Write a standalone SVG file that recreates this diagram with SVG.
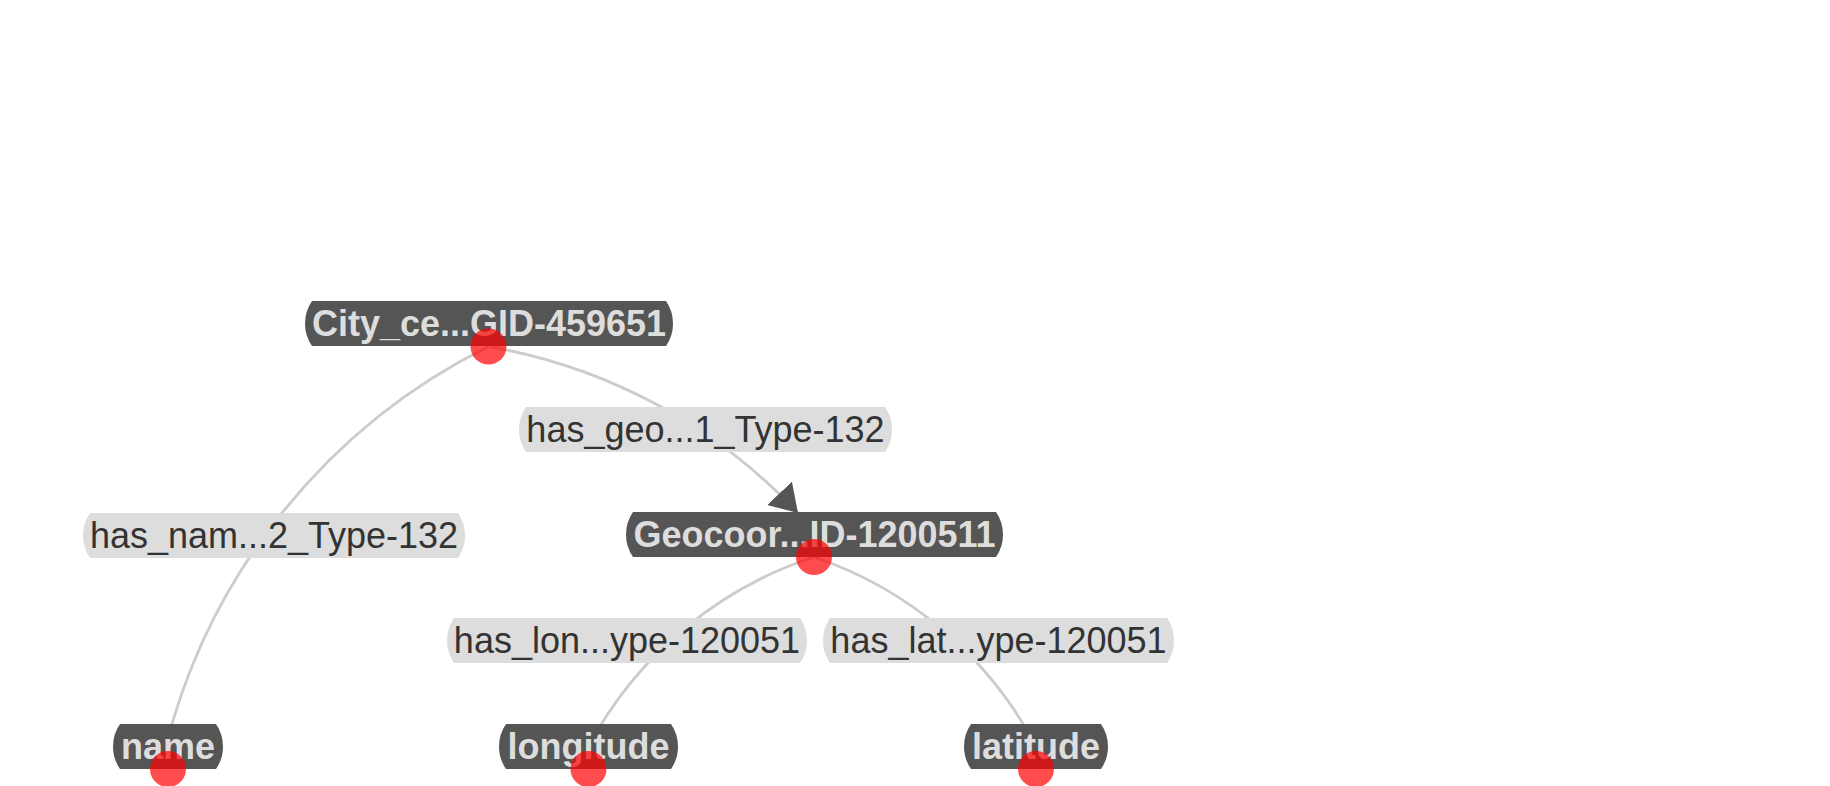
<svg xmlns="http://www.w3.org/2000/svg" width="1830" height="786" viewBox="0 0 1830 786">
<style>
.edge{fill:none;stroke:#ccc;stroke-width:2.8}
.lbl{fill:#ddd}
.lbltxt{font-family:"Liberation Sans",Arial,sans-serif;font-size:36px;fill:#333;text-anchor:middle}
.node{fill:#555}
.nodetxt{font-family:"Liberation Sans",Arial,sans-serif;font-size:36px;font-weight:bold;fill:#ddd;text-anchor:middle}
.dot{fill:red;opacity:0.7}
</style>
<defs>
<marker id="arrow" markerUnits="userSpaceOnUse" viewBox="0 -17 27 34" refX="27" refY="0" markerWidth="27" markerHeight="34" orient="auto">
<path d="M0,-17 L27,0 L0,17 Z" fill="#555"/>
</marker>
</defs>
<rect width="1830" height="786" fill="#fff"/>
<g id="connectors">
<path class="edge" d="M488.5,346.5 A615,615 0 0 0 166,746"/>
<path class="edge" d="M488.5,346.5 A554,554 0 0 1 798,513" marker-end="url(#arrow)"/>
<path class="edge" d="M814,557 A393,393 0 0 0 588.5,746.5"/>
<path class="edge" d="M814,557 A393,393 0 0 1 1036,746.5"/>
</g>
<g id="edge-labels">
<g id="label-has_nam">
<path class="lbl" d="M90,513 H458 A39.66,39.66 0 0 1 458,558 H90 A39.66,39.66 0 0 1 90,513 Z"/>
<text class="lbltxt" x="274" y="548">has_nam...2_Type-132</text>
</g>
<g id="label-has_geo">
<path class="lbl" d="M526,407 H885 A39.66,39.66 0 0 1 885,452 H526 A39.66,39.66 0 0 1 526,407 Z"/>
<text class="lbltxt" x="705.5" y="442">has_geo...1_Type-132</text>
</g>
<g id="label-has_lon">
<path class="lbl" d="M454,618 H800 A39.66,39.66 0 0 1 800,663 H454 A39.66,39.66 0 0 1 454,618 Z"/>
<text class="lbltxt" x="627" y="653">has_lon...ype-120051</text>
</g>
<g id="label-has_lat">
<path class="lbl" d="M830,618 H1167 A39.66,39.66 0 0 1 1167,663 H830 A39.66,39.66 0 0 1 830,618 Z"/>
<text class="lbltxt" x="998.5" y="653">has_lat...ype-120051</text>
</g>
</g>
<g id="node-city">
<path class="node" d="M312,301 H666 A39.66,39.66 0 0 1 666,346 H312 A39.66,39.66 0 0 1 312,301 Z"/>
<text class="nodetxt" x="489" y="336">City_ce...GID-459651</text>
<circle class="dot" cx="488.5" cy="346.5" r="18"/>
</g>
<g id="node-geocoor">
<path class="node" d="M633,512 H996 A39.66,39.66 0 0 1 996,557 H633 A39.66,39.66 0 0 1 633,512 Z"/>
<text class="nodetxt" x="814.5" y="547">Geocoor...ID-1200511</text>
<circle class="dot" cx="814" cy="557" r="18"/>
</g>
<g id="node-name">
<path class="node" d="M120,724 H216 A39.66,39.66 0 0 1 216,769 H120 A39.66,39.66 0 0 1 120,724 Z"/>
<text class="nodetxt" x="168" y="759">name</text>
<circle class="dot" cx="168" cy="769" r="18"/>
</g>
<g id="node-longitude">
<path class="node" d="M506,724 H671 A39.66,39.66 0 0 1 671,769 H506 A39.66,39.66 0 0 1 506,724 Z"/>
<text class="nodetxt" x="588.5" y="759">longitude</text>
<circle class="dot" cx="588.5" cy="769" r="18"/>
</g>
<g id="node-latitude">
<path class="node" d="M971,724 H1101 A39.66,39.66 0 0 1 1101,769 H971 A39.66,39.66 0 0 1 971,724 Z"/>
<text class="nodetxt" x="1036" y="759">latitude</text>
<circle class="dot" cx="1036" cy="769" r="18"/>
</g>
</svg>
